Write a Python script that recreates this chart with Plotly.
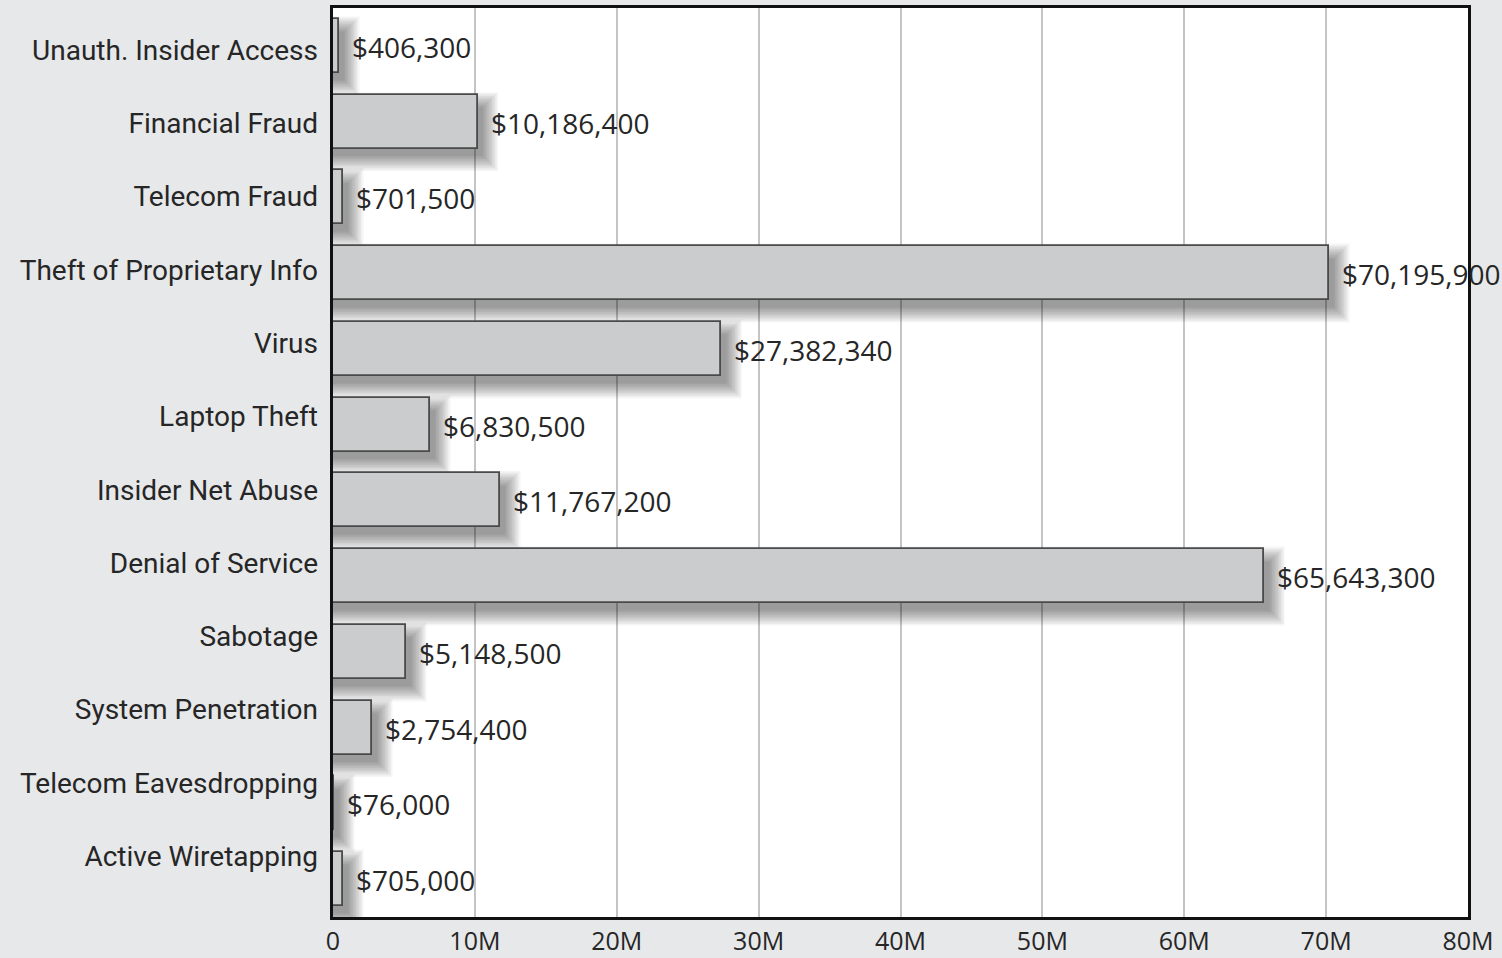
import plotly.graph_objects as go

# Reported losses by type of incident (US$)
categories = [
    "Unauth. Insider Access",
    "Financial Fraud",
    "Telecom Fraud",
    "Theft of Proprietary Info",
    "Virus",
    "Laptop Theft",
    "Insider Net Abuse",
    "Denial of Service",
    "Sabotage",
    "System Penetration",
    "Telecom Eavesdropping",
    "Active Wiretapping",
]
losses = [406300, 10186400, 701500, 70195900, 27382340, 6830500,
          11767200, 65643300, 5148500, 2754400, 76000, 705000]
x_tick_values = [0, 10e6, 20e6, 30e6, 40e6, 50e6, 60e6, 70e6, 80e6]
x_tick_labels = ["0", "10M", "20M", "30M", "40M", "50M", "60M", "70M", "80M"]

rows = list(range(len(categories)))
BAR_W = 0.71
BG = "#e7e8e9"
LABEL_FONT = "Roboto"
VALUE_FONT = "Open Sans"

# plot geometry, used to express the shadow offset in pixels
W, H = 1502, 958
M_L, M_R, M_T, M_B = 333, 34, 8, 41
X_MAX = 80e6
px_x = X_MAX / (W - M_L - M_R)          # dollars per pixel
px_y = len(rows) / (H - M_T - M_B)      # rows per pixel

fig = go.Figure()

# soft drop shadow: many faint bars, each spreading a little further
SH_DX, SH_DY, LAYERS, STEP = 8, 10, 22, 0.75
for k in range(LAYERS):
    spread = (LAYERS - 1 - k) * STEP - 3
    fig.add_trace(go.Bar(
        orientation="h",
        y=[r + SH_DY * px_y for r in rows],
        x=[v + (SH_DX + spread) * px_x for v in losses],
        base=0,
        width=BAR_W + 2 * spread * px_y,
        marker=dict(color="rgba(0,0,0,0.02)", line=dict(width=0)),
        hoverinfo="skip",
        showlegend=False,
    ))

fig.add_trace(go.Bar(
    orientation="h",
    y=rows,
    x=losses,
    width=BAR_W,
    marker=dict(color="#cbcccd", line=dict(color="#4a4a4a", width=1.8)),
    showlegend=False,
))

# category labels sit on a second, slightly compressed scale
fig.add_trace(go.Scatter(
    x=[0] * len(rows), y=rows, yaxis="y2", mode="markers",
    marker=dict(opacity=0), hoverinfo="skip", showlegend=False,
))

for r, v in zip(rows, losses):
    fig.add_annotation(
        x=v, y=r, xref="x", yref="y",
        text=f"${v:,.0f}",
        showarrow=False, xanchor="left", yanchor="middle",
        xshift=11, yshift=-1,
        font=dict(family=VALUE_FONT, size=28, color="#262626"),
    )

fig.update_layout(
    width=W, height=H,
    paper_bgcolor=BG, plot_bgcolor="white",
    margin=dict(l=M_L, r=M_R, t=M_T, b=M_B, autoexpand=False),
    barmode="overlay",
    bargap=0,
    xaxis=dict(
        range=[0, X_MAX],
        tickvals=x_tick_values, ticktext=x_tick_labels,
        showgrid=True, gridcolor="#c4c4c4", gridwidth=2,
        zeroline=False, automargin=False,
        showline=True, mirror=True, linecolor="#111111", linewidth=2.5,
        ticks="", ticklabelstandoff=0,
        tickfont=dict(family=VALUE_FONT, size=25, color="#262626"),
        fixedrange=True,
    ),
    yaxis=dict(
        range=[11.5, -0.5], automargin=False,
        showticklabels=False, showgrid=False, zeroline=False,
        showline=True, mirror=True, linecolor="#111111", linewidth=2.5,
        ticks="",
    ),
    yaxis2=dict(
        overlaying="y", side="left", automargin=False,
        range=[11.83, -0.573],
        tickvals=rows, ticktext=categories,
        showgrid=False, zeroline=False, showline=False, ticks="",
        ticklabelstandoff=14,
        tickfont=dict(family=LABEL_FONT, size=28, color="#262626"),
    ),
)

fig.write_html("out.html")
